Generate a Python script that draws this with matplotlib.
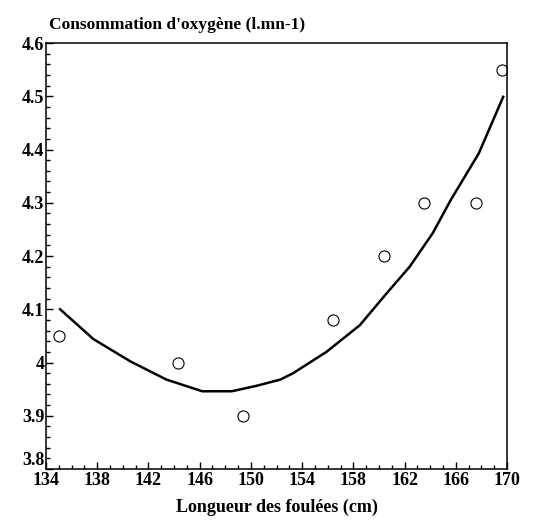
import matplotlib
matplotlib.use("Agg")
import matplotlib.pyplot as plt
from matplotlib.ticker import MultipleLocator, FixedLocator, FuncFormatter

# measured points
stride = [135.0, 144.3, 149.4, 156.4, 160.4, 163.5, 167.6, 169.6]
oxygen = [4.05, 4.00, 3.90, 4.08, 4.20, 4.30, 4.30, 4.55]

# fitted curve as drawn
fit_x = [135.1, 137.7, 140.6, 143.4, 146.2, 148.5, 150.4, 152.3, 153.3,
         155.9, 158.5, 160.6, 162.4, 164.2, 165.6, 167.8, 169.7]
fit_y = [4.100, 4.044, 4.002, 3.968, 3.946, 3.946, 3.956, 3.968, 3.980,
         4.020, 4.070, 4.130, 4.180, 4.243, 4.305, 4.393, 4.499]

x_ticks = [134, 138, 142, 146, 150, 154, 158, 162, 166, 170]
y_min, y_max = 3.8, 4.6

plt.rcParams['font.family'] = ['Liberation Serif', 'DejaVu Serif']

fig = plt.figure(figsize=(5.33, 5.22), dpi=100)
ax = fig.add_axes([0.0863, 0.1015, 0.8650, 0.8161])

ax.plot(fit_x, fit_y, color='black', lw=1.8, solid_joinstyle='round')
ax.plot(stride, oxygen, 'o', mfc='white', mec='black', ms=8, mew=0.8)

ax.set_xlim(134, 170)
ax.set_ylim(y_min, y_max)
ax.xaxis.set_major_locator(FixedLocator(x_ticks))
ax.xaxis.set_minor_locator(MultipleLocator(1))
ax.yaxis.set_major_locator(MultipleLocator(0.1))
ax.yaxis.set_minor_locator(MultipleLocator(0.02))
# bottom label is drawn separately, raised above the x axis like the original
ax.yaxis.set_major_formatter(
    FuncFormatter(lambda v, p: '' if abs(v - y_min) < 1e-6 else '%g' % round(v, 2)))

ax.tick_params(which='both', direction='in', top=False, right=False, width=1)
ax.tick_params(axis='x', pad=2)
ax.tick_params(axis='y', pad=1)
ax.tick_params(which='major', length=5, labelsize=13, labelfontfamily='Liberation Serif')
ax.tick_params(which='minor', length=3)
for lab in ax.get_xticklabels() + ax.get_yticklabels():
    lab.set_fontweight('bold')

ax.text(-0.003, y_min, '%g' % y_min, transform=ax.get_yaxis_transform(),
        ha='right', va='bottom', fontsize=13, fontweight='bold')

for sp in ax.spines.values():
    sp.set_linewidth(1.1)

ax.set_xlabel('Longueur des foulées (cm)', fontsize=13, fontweight='bold',
              labelpad=7)
fig.text(0.092, 0.937, "Consommation d'oxygène (l.mn-1)", fontsize=12.5,
         fontweight='bold', ha='left', va='bottom')

fig.savefig('out.png', dpi=100)
